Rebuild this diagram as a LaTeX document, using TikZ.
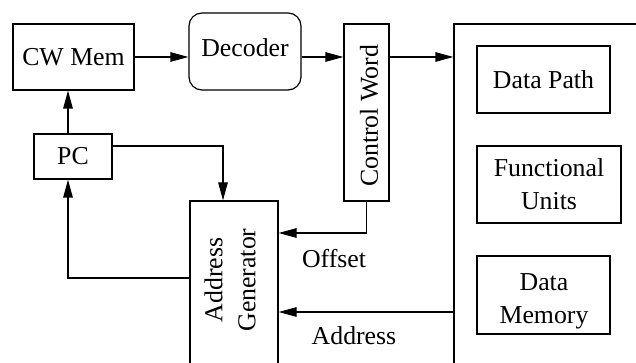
\documentclass[tikz,border=0pt]{standalone}
\usepackage{fontspec}
\setmainfont{Liberation Serif}
\usetikzlibrary{arrows.meta}
\begin{document}
\begin{tikzpicture}[x=1pt,y=-1pt,
  blk/.style={draw, line width=1.2pt, inner sep=0pt, align=center},
  txt/.style={inner sep=0pt, align=center},
  arr/.style={line width=1.2pt, -{Triangle[length=18pt,width=9.5pt]}},
  every node/.append style={font=\fontsize{25.8}{33}\selectfont}]
\useasboundingbox (0,0) rectangle (636,363);
\clip (0,0) rectangle (636,363);

% blocks
\node[blk, minimum width=121pt, minimum height=66pt] (cwmem) at (73.5,57) {CW Mem};
\node[blk, rounded corners=13pt, minimum width=112pt, minimum height=77pt] (dec) at (245,51.5) {};
\node[txt] (dectxt) at (245,48) {Decoder};
\node[blk, minimum width=45pt, minimum height=177pt] (cw) at (366.5,112.5) {};
\node[txt, rotate=90] (cwtxt) at (369,116) {Control Word};
\node[blk, minimum width=78pt, minimum height=45pt] (pc) at (73,156.5) {PC};
\node[blk, minimum width=88pt, minimum height=199pt] (ag) at (234,300.5) {};
\node[txt, rotate=90] (agtxt) at (230,280) {Address\\Generator};

% execution side
\node[blk, minimum width=246pt, minimum height=396pt] (big) at (577,222) {};
\node[blk, minimum width=133pt, minimum height=67pt] (dp) at (543.5,79.5) {Data Path};
\node[blk, minimum width=144pt, minimum height=77pt] (fu) at (549,184.5) {Functional\\Units};
\node[blk, minimum width=133pt, minimum height=78pt] (dm) at (543.5,295) {};
\node[txt] (dmtxt) at (544,301) {Data\\Memory};

% routing helpers
\coordinate (offY) at (0,233);
\coordinate (addrY) at (0,312);
\coordinate (pcY) at (0,146);
\coordinate (agX) at (223,0);
\coordinate (fbY) at (0,278);
\coordinate (fbX) at (68,0);

% connectors
\draw[arr] (cwmem.east) -- (cwmem.east -| dec.west);
\draw[arr] (dec.east |- cwmem.east) -- (cw.west |- cwmem.east);
\draw[arr] (cw.east |- cwmem.east) -- (big.west |- cwmem.east);
\draw[arr] (cw.south) |- (ag.east |- offY);
\draw[arr] (big.west |- addrY) -- (ag.east |- addrY);
\draw[arr] (pc.east |- pcY) -| (agX |- ag.north);
\draw[arr] (ag.west |- fbY) -| (fbX |- pc.south);
\draw[arr] (fbX |- pc.north) -- (fbX |- cwmem.south);

% labels
\node[txt] (offlbl) at (334,259) {Offset};
\node[txt] (addrlbl) at (354,336) {Address};
\end{tikzpicture}
\end{document}
